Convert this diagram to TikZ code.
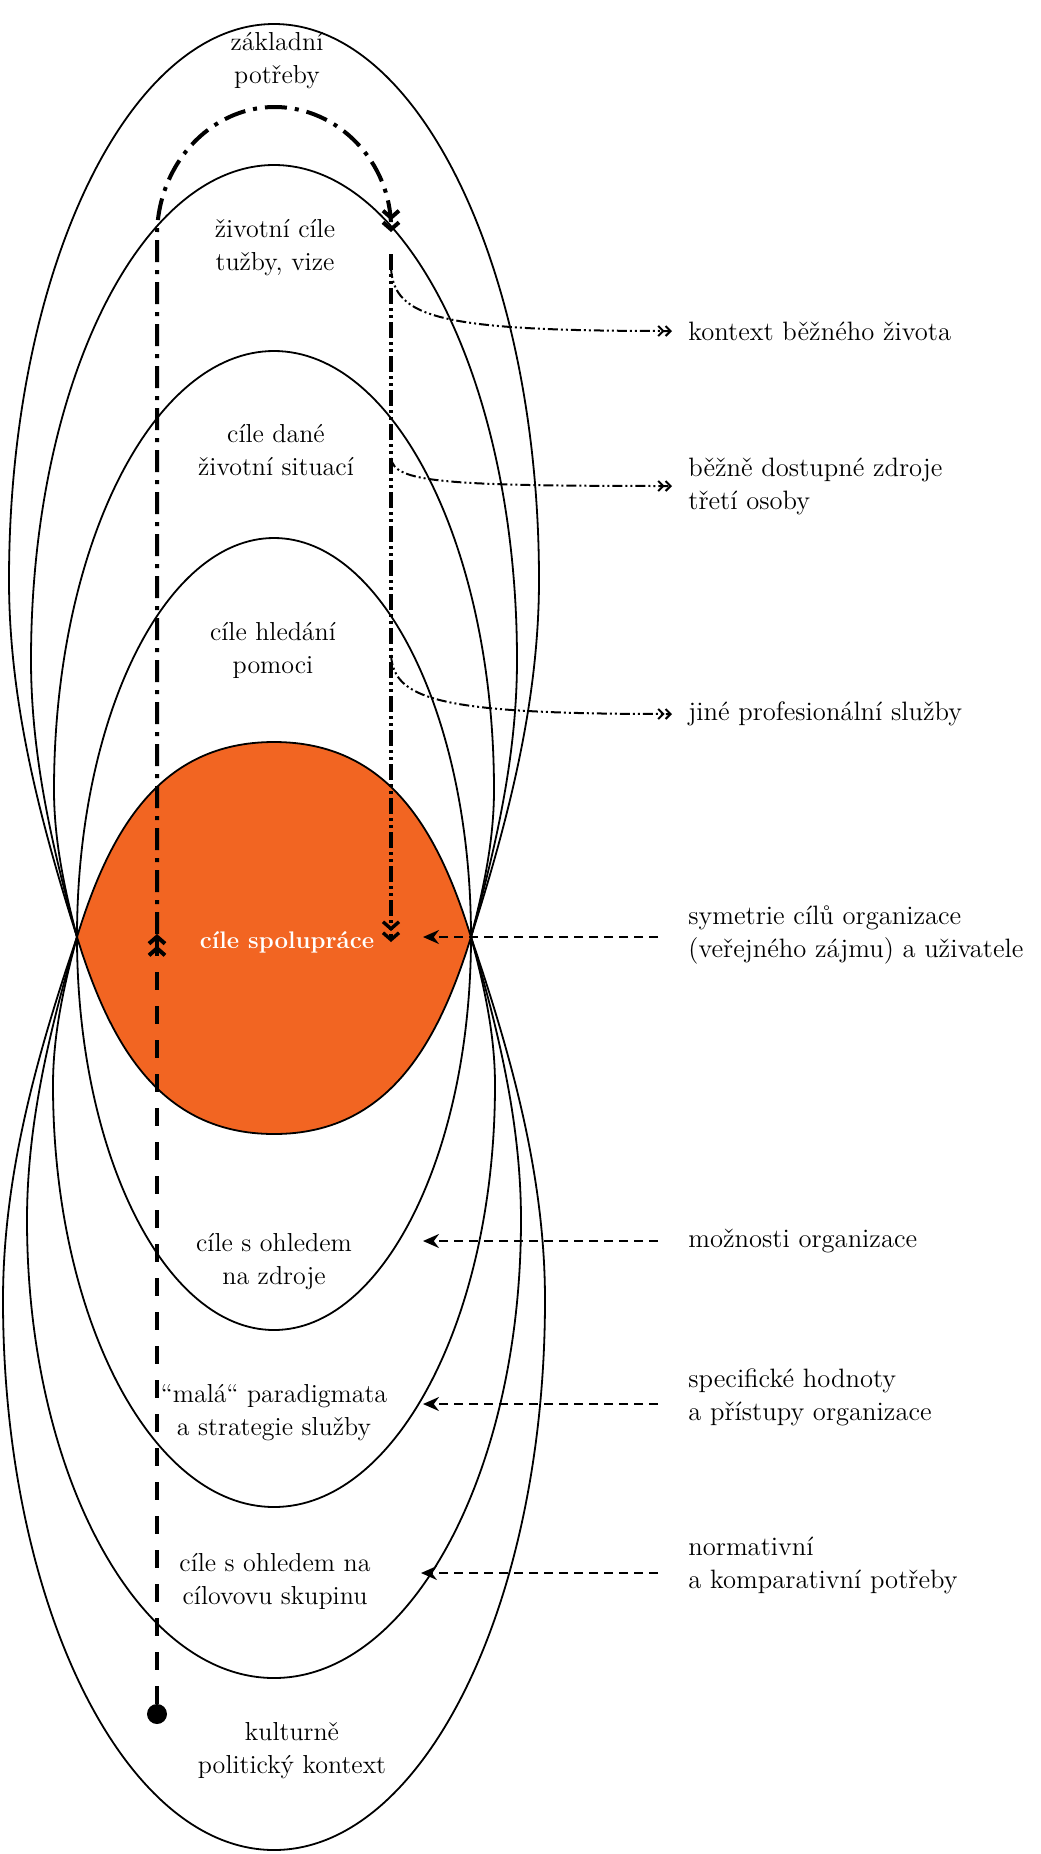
\documentclass[tikz,border=0pt]{standalone}
\usepackage{fontspec}
\usetikzlibrary{arrows.meta,positioning,calc}

\definecolor{lensorange}{RGB}{242,101,34}

\tikzset{
  outline/.style={line width=0.9pt},
  lbl/.style={font=\fontsize{13pt}{16.5pt}\selectfont, align=center, inner sep=0pt},
  side/.style={font=\fontsize{13.3pt}{16.5pt}\selectfont, align=left, anchor=west, inner sep=0pt},
  pointer/.style={line width=0.9pt, dash pattern=on 4.5pt off 3pt,
    -{Stealth[length=8pt,width=7pt]}, shorten <=15pt},
  branch/.style={line width=1pt, dash pattern=on 5pt off 1.5pt on 1pt off 1.5pt on 1pt off 1.5pt,
    -{Straight Barb[length=2.5pt,width=5pt]Straight Barb[length=2.5pt,width=5pt]}, shorten >=8pt},
  upline/.style={line width=2pt, dash pattern=on 9pt off 8pt,
    -{Straight Barb[length=3.5pt,width=8pt]Straight Barb[length=3.5pt,width=8pt]}},
  loopline/.style={line width=2pt, dash pattern=on 11pt off 4pt on 2pt off 4pt,
    -{Straight Barb[length=3.5pt,width=8pt]Straight Barb[length=3.5pt,width=8pt]}},
  downline/.style={line width=1.7pt, dash pattern=on 8pt off 2pt on 1.5pt off 2pt on 1.5pt off 2pt,
    -{Straight Barb[length=3.5pt,width=8pt]Straight Barb[length=3.5pt,width=8pt]}},
}

% one lobe: #1 x of widest point (left), #2 its y, #3 y of the apex
\newcommand{\lobe}[3]{%
  \draw[outline] (pl) .. controls ({77-0.55*(77-#1)},{937+0.33*(#2-937)}) and (#1,{937+0.66*(#2-937)}) .. (#1,#2)
    .. controls (#1,{#2+0.552*(#3-#2)}) and ({274-0.552*(274-#1)},#3) .. (274,#3)
    .. controls ({274+0.552*(274-#1)},#3) and ({548-#1},{#2+0.552*(#3-#2)}) .. ({548-#1},#2)
    .. controls ({548-#1},{937+0.66*(#2-937)}) and ({471+0.55*(77-#1)},{937+0.33*(#2-937)}) .. (pr);}

\begin{document}
\begin{tikzpicture}[x=0.5pt, y=-0.5pt]
  \useasboundingbox (0,0) rectangle (1040,1854);

  \coordinate (pl) at (77,937);
  \coordinate (pr) at (471,937);

  % lens
  \filldraw[fill=lensorange, outline] (pl) .. controls (110,830) and (160,742) .. (274,742)
    .. controls (388,742) and (438,830) .. (pr)
    .. controls (438,1044) and (388,1134) .. (274,1134)
    .. controls (160,1134) and (110,1044) .. (pl) -- cycle;

  % lobes
  \lobe{9}{580}{24}
  \lobe{31}{660}{165}
  \lobe{54}{790}{351}
  \lobe{77}{937}{538}
  \lobe{77}{937}{1330}
  \lobe{53}{1085}{1507}
  \lobe{27}{1220}{1678}
  \lobe{3}{1300}{1850}

  % texts in the lobes
  \node[lbl] (zakl) at (277,61) {základní\\potřeby};
  \node[lbl] (zivot) at (275,248) {životní cíle\\tužby, vize};
  \node[lbl] (dane) at (276,450) {cíle dané\\životní situací};
  \node[lbl] (hled) at (273,650) {cíle hledání\\pomoci};
  \node[lbl, font=\fontsize{12pt}{14pt}\selectfont\bfseries, text=white] (spol) at (287,942) {cíle spolupráce};
  \node[lbl] (zdroje) at (274,1262) {cíle s ohledem\\na zdroje};
  \node[lbl] (mala) at (274,1413) {“malá“ paradigmata\\a strategie služby};
  \node[lbl] (skup) at (275,1581) {cíle s ohledem na\\cílovovu skupinu};
  \node[lbl] (kult) at (292,1751) {kulturně\\politický kontext};

  % texts on the right
  \node[side] (kontext) at (688,331) {kontext běžného života};
  \node[side] (bezne) at (688,486) {běžně dostupné zdroje\\třetí osoby};
  \node[side] (jine) at (688,714) {jiné profesionální služby};
  \node[side] (sym) at (688,935) {symetrie cílů organizace\\(veřejného zájmu) a uživatele};
  \node[side] (moz) at (688,1241) {možnosti organizace};
  \node[side] (spec) at (688,1397) {specifické hodnoty\\a přístupy organizace};
  \node[side] (norm) at (688,1565) {normativní\\a komparativní potřeby};

  % main path
  \node[circle, fill, inner sep=0pt, minimum size=10pt] (dot) at (157,1714) {};
  \coordinate (uptip) at (157,934);
  \coordinate (arcL) at (157,236);
  \coordinate (arcR) at (391,232);
  \coordinate (vtop) at (391,254);
  \coordinate (vbot) at (391,942);
  \draw[upline] (dot) -- (uptip);
  \draw[loopline] (uptip) -- (arcL) .. controls (157,165) and (210,107) .. (274.5,107)
    .. controls (339,107) and (391,163) .. (arcR);
  \draw[downline] (vtop) -- (vbot);

  % branches to the right
  \coordinate (b1) at (391,268);
  \coordinate (b2) at (391,458);
  \coordinate (b3) at (391,655);
  \draw[branch] (b1) .. controls (394,318) and (440,331) .. (kontext.west);
  \draw[branch] (b2) .. controls (394,482) and (440,486) .. (bezne.west);
  \draw[branch] (b3) .. controls (394,700) and (440,714) .. (jine.west);

  % pointers from the right
  \coordinate (t1) at (423,937);
  \coordinate (t2) at (423,1241);
  \coordinate (t3) at (423,1404);
  \coordinate (t4) at (421,1573);
  \draw[pointer] (sym.west |- t1) -- (t1);
  \draw[pointer] (moz.west |- t2) -- (t2);
  \draw[pointer] (spec.west |- t3) -- (t3);
  \draw[pointer] (norm.west |- t4) -- (t4);
\end{tikzpicture}
\end{document}
